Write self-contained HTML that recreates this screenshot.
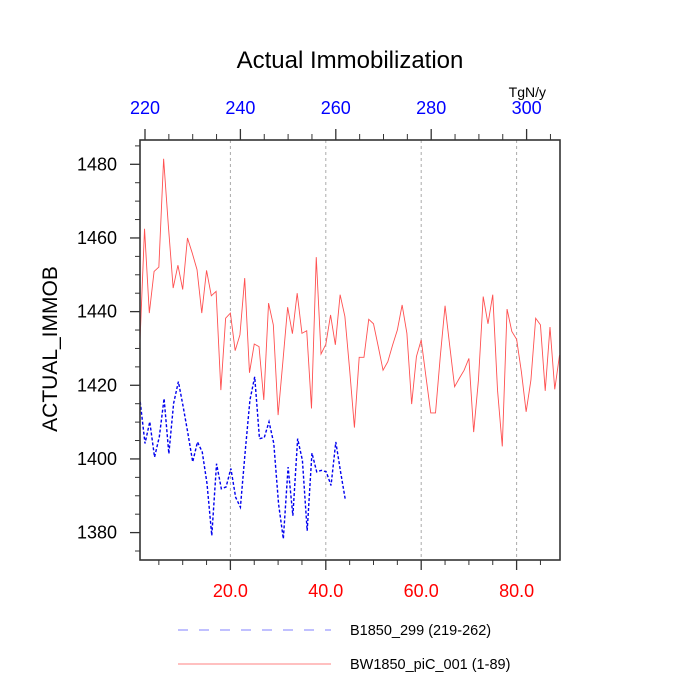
<!DOCTYPE html>
<html><head><meta charset="utf-8"><style>
body{margin:0;background:#fff}
svg{display:block;font-family:"Liberation Sans",sans-serif}
</style></head><body>
<svg id="chart" width="700" height="700" viewBox="0 0 700 700">
<text x="350" y="68" text-anchor="middle" font-size="24">Actual Immobilization</text>
<text x="546" y="97" text-anchor="end" font-size="14">TgN/y</text>
<text transform="translate(57,349) rotate(-90)" text-anchor="middle" font-size="21">ACTUAL_IMMOB</text>
<g id="grid"></g>
<g id="ticks"></g>
<g id="series"></g>
<rect x="140" y="140" width="420" height="420" fill="none" stroke="#333" stroke-width="1.6"/>
<g>
<line x1="178" y1="630" x2="331" y2="630" stroke="#8080ff" stroke-width="1" stroke-dasharray="10,11"/>
<text x="350" y="635" font-size="14.5">B1850_299 (219-262)</text>
<line x1="178" y1="664" x2="331" y2="664" stroke="#ff8080" stroke-width="1"/>
<text x="350" y="669" font-size="14.5">BW1850_piC_001 (1-89)</text>
</g>
</svg>
<script>
const redValues=[1430.5,1462.5,1439.6,1450.9,1452.1,1481.5,1463.2,1446.4,1452.6,1446,1460,1455.9,1451.4,1439.6,1451.2,1444.3,1445.5,1418.7,1438.2,1439.6,1429.4,1433.7,1449.1,1423.4,1431.2,1430.5,1416,1442.3,1436.4,1411.9,1426.4,1441.2,1434,1445,1434.1,1434.8,1413.7,1454.8,1428.5,1431.1,1439.1,1431,1444.6,1438.7,1424.2,1408.5,1427.6,1427.6,1437.9,1436.7,1430.5,1424.1,1426.4,1430.9,1435,1441.8,1434.1,1414.9,1427.8,1432.3,1422.3,1412.5,1412.5,1427.8,1441.6,1430.5,1419.6,1421.9,1424.1,1427.3,1407.3,1421.4,1444.1,1436.7,1444.6,1418.7,1403.4,1440.7,1434.6,1432.5,1423.7,1412.8,1421.4,1438.2,1436.4,1418.5,1435.8,1418.9,1428.2];
const blueValues=[1415.5,1404.2,1410.1,1400.5,1406,1416.4,1401.4,1415.1,1421,1414.2,1406.9,1399.2,1404.6,1401.9,1393.3,1379.2,1398.7,1391.9,1392.4,1397.4,1389.6,1386.9,1401.9,1416,1422.3,1405.5,1405.8,1410.1,1404.2,1387.8,1378.3,1397.8,1384.6,1405.5,1399.6,1380.5,1401.6,1396.5,1396.9,1396.5,1392.8,1404.6,1396.5,1388.9];
const bottomTicks=[20,40,60,80];
const bottomTickLabels=["20.0","40.0","60.0","80.0"];
const topTicks=[220,240,260,280,300];
const topTickLabels=["220","240","260","280","300"];
const yTicks=[1380,1400,1420,1440,1460,1480];
const yTickLabels=["1380","1400","1420","1440","1460","1480"];
const blueStart=219;

const NS="http://www.w3.org/2000/svg";
function xB(v){return 135+4.77*v;}
function xT(t){return 145+4.77*(t-220);}
function yS(v){return 164.3+(1480-v)*3.683;}
function mk(tag,attrs,parent){const e=document.createElementNS(NS,tag);for(const k in attrs)e.setAttribute(k,attrs[k]);parent.appendChild(e);return e;}
const grid=document.getElementById('grid'),ticks=document.getElementById('ticks'),series=document.getElementById('series');
bottomTicks.forEach((v,i)=>{
  const g=mk('line',{x1:xB(v),x2:xB(v),y1:140,y2:560,stroke:'#aaa','stroke-width':1,'stroke-dasharray':'3,3'},grid);
  
  
  const t=mk('line',{x1:xB(v),x2:xB(v),y1:560,y2:570,stroke:'#333','stroke-width':1.3},ticks);
  
  
  const l=mk('text',{x:xB(v),y:597,'text-anchor':'middle','font-size':18,fill:'#ff0000'},ticks);
  l.textContent=bottomTickLabels[i];
  
  
});
for(let v=5;v<=85;v+=5){if(v%20===0)continue;
  const t=mk('line',{x1:xB(v),x2:xB(v),y1:560,y2:565,stroke:'#333','stroke-width':1},ticks);
  
  
}
topTicks.forEach((v,i)=>{
  const t=mk('line',{x1:xT(v),x2:xT(v),y1:140,y2:129,stroke:'#333','stroke-width':1.3},ticks);
  
  
  const l=mk('text',{x:xT(v),y:114,'text-anchor':'middle','font-size':18,fill:'#0000ff'},ticks);
  l.textContent=topTickLabels[i];
  
  
});
for(let v=225;v<=305;v+=5){if(v%20===0)continue;
  const t=mk('line',{x1:xT(v),x2:xT(v),y1:140,y2:134,stroke:'#333','stroke-width':1},ticks);
  
  
}
yTicks.forEach((v,i)=>{
  const t=mk('line',{x1:130,x2:140,y1:yS(v),y2:yS(v),stroke:'#333','stroke-width':1.3},ticks);
  
  
  const l=mk('text',{x:117,y:yS(v)+6,'text-anchor':'end','font-size':18},ticks);
  l.textContent=yTickLabels[i];
  
  
});
for(let v=1375;v<=1485;v+=5){if(v%20===0)continue;const y=yS(v);if(y<141||y>559)continue;
  const t=mk('line',{x1:135,x2:140,y1:y,y2:y,stroke:'#333','stroke-width':1},ticks);
  
  
}
const rp=redValues.map((v,i)=>xB(i+1).toFixed(2)+','+yS(v).toFixed(2)).join(' ');
const red=mk('polyline',{points:rp,fill:'none',stroke:'#ff5050','stroke-width':0.9},series);


const bp=blueValues.map((v,i)=>xT(blueStart+i).toFixed(2)+','+yS(v).toFixed(2)).join(' ');
const blue=mk('polyline',{points:bp,fill:'none',stroke:'#0000ee','stroke-width':1.4,'stroke-dasharray':'3,2'},series);


</script>
</body></html>
